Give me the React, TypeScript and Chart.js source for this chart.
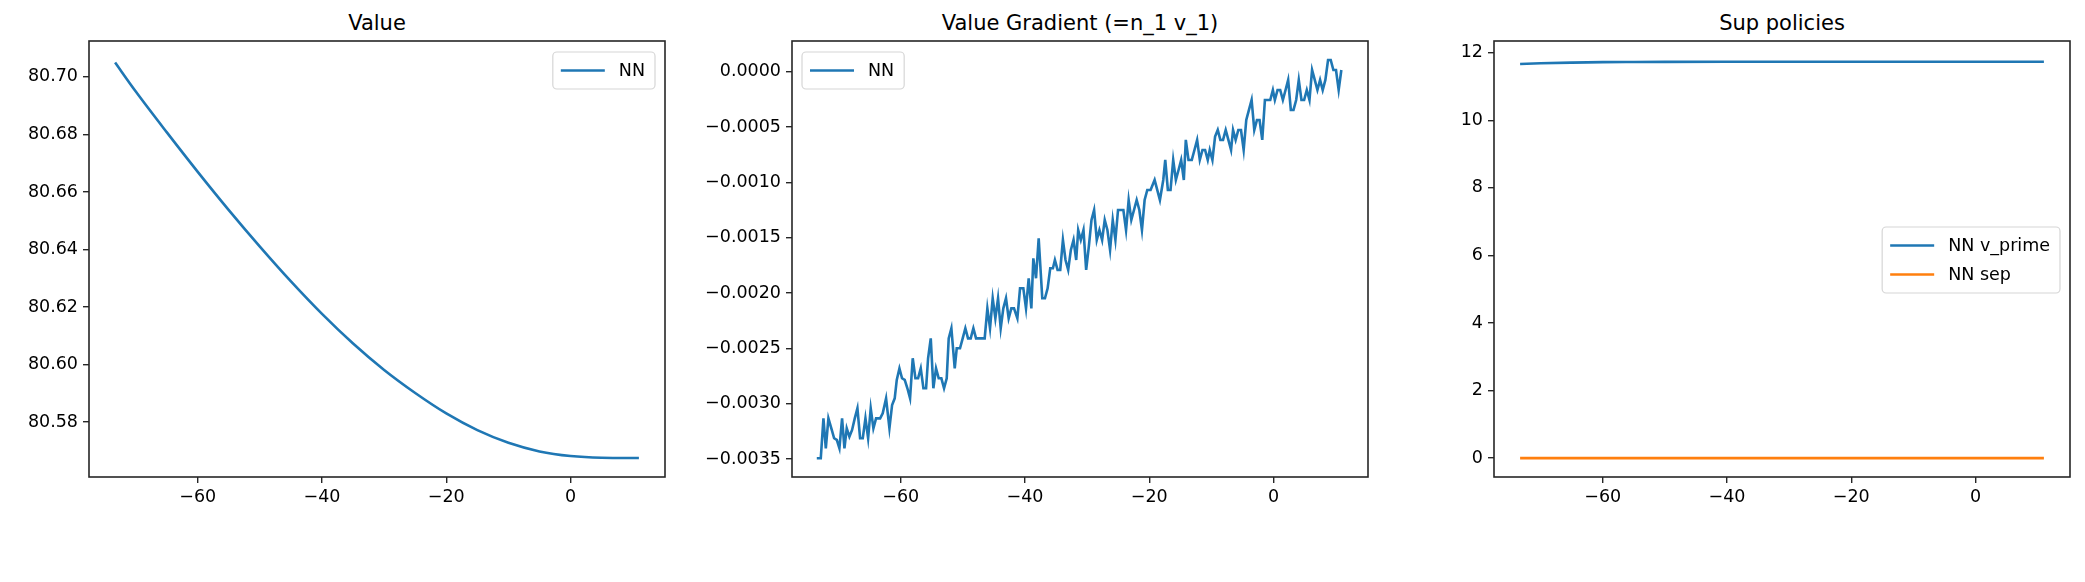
import React, { useEffect, useRef } from "react";
import { Chart, registerables } from "chart.js";
Chart.register(...registerables);

const valueX = [-73.3, -70, -65, -60, -55, -50, -45, -40, -35, -30, -25, -20, -15, -10, -5, 0, 5, 11];
const valueY = [80.705, 80.695, 80.6808, 80.667, 80.6537, 80.641, 80.6289, 80.6176, 80.6073, 80.5981, 80.5901, 80.583, 80.5772, 80.5728, 80.5698, 80.5682, 80.5676, 80.5675];

const gradX = [
  -73.51, -72.87, -72.44, -72.06, -71.64, -71.1, -70.72, -70.29, -69.87, -69.44,
  -69.06, -68.69, -68.26, -67.83, -67.4, -66.97, -66.54, -66.11, -65.68, -65.25,
  -64.83, -64.4, -63.97, -63.32, -62.9, -62.36, -61.82, -61.39, -60.97, -60.64,
  -60.21, -59.79, -59.36, -58.93, -58.5, -58.07, -57.64, -57.21, -56.78, -56.35,
  -55.92, -55.6, -55.17, -54.75, -54.32, -53.89, -53.46, -53.03, -52.6, -52.28,
  -51.85, -51.31, -50.99, -50.46, -50.03, -49.6, -49.17, -48.74, -48.31, -47.88,
  -47.45, -46.92, -46.49, -46.06, -45.63, -45.2, -44.77, -44.34, -43.91, -43.49,
  -43.06, -42.63, -42.2, -41.77, -41.23, -40.8, -40.27, -39.84, -39.41, -38.98,
  -38.66, -38.23, -37.8,
  -37.22, -36.79, -36.36, -35.94, -35.51, -35.19, -34.76, -34.33, -33.9, -33.48,
  -33.05, -32.62, -32.19, -31.76, -31.44, -31.02, -30.59, -30.16, -29.73, -29.3,
  -28.88, -28.45, -28.02, -27.59, -27.17, -26.74, -26.31, -25.88, -25.45, -25.03,
  -24.6, -24.17, -23.74, -23.32, -22.89, -22.46, -22.03, -21.6, -21.18, -20.75,
  -20.32, -19.79, -19.14, -18.72, -18.29, -17.75, -17.43, -17.01, -16.58, -16.15,
  -15.72, -15.29, -14.87, -14.44, -14.12, -13.69, -13.16, -12.73, -12.3, -11.87,
  -11.44, -11.02, -10.59, -10.27, -9.84, -9.41, -8.98, -8.56, -8.13, -7.7,
  -7.27, -6.84, -6.52, -6.1, -5.67, -5.24, -4.81, -4.39, -3.96, -3.53,
  -3.1, -2.67, -2.25, -1.82, -1.39, -0.96, -0.53, -0.11, 0.21, 0.64,
  1.07, 1.5, 1.93, 2.35, 2.78, 3.21, 3.64, 4.06, 4.49, 4.92,
  5.35, 5.78, 6.2, 6.63, 7.06, 7.49, 7.91, 8.34, 8.77, 9.2,
  9.63, 10.05, 10.48, 10.91,
];
const gradY = [
  -0.003494, -0.003494, -0.003133, -0.003404, -0.003133, -0.003238, -0.003313, -0.003328, -0.003404, -0.003133,
  -0.003404, -0.003223, -0.003298, -0.003238, -0.003133, -0.003042, -0.003313, -0.003313, -0.003133, -0.003313,
  -0.003042, -0.003223, -0.003133, -0.003133, -0.003087, -0.002952, -0.003223, -0.003012, -0.002952, -0.002786,
  -0.002681, -0.002771, -0.002786, -0.002861, -0.002952, -0.00259, -0.002771, -0.002771, -0.002681, -0.002861,
  -0.002861, -0.00259, -0.00241, -0.002861, -0.002681, -0.002771, -0.002771, -0.002861, -0.002771, -0.00241,
  -0.002319, -0.002681, -0.0025, -0.0025, -0.00241, -0.002319, -0.00241, -0.00241, -0.002319, -0.00241,
  -0.00241, -0.00241, -0.00241, -0.002139, -0.002319, -0.002048, -0.002229, -0.002048, -0.002319, -0.002139,
  -0.002048, -0.002229, -0.002139, -0.002139, -0.002229, -0.001958, -0.001958, -0.002139, -0.001867, -0.002139,
  -0.001687, -0.001867, -0.001506,
  -0.002048, -0.002048, -0.001958, -0.001777, -0.001777, -0.001702, -0.001792, -0.001792, -0.001521, -0.001702,
  -0.001792, -0.001611, -0.001521, -0.001702, -0.001431, -0.001521, -0.001431, -0.001792, -0.001581, -0.00134,
  -0.00125, -0.001521, -0.001431, -0.001521, -0.00134, -0.001431, -0.001611, -0.00134, -0.001521, -0.00125,
  -0.00125, -0.00125, -0.001431, -0.00116, -0.00134, -0.00125, -0.00116, -0.00125, -0.001431, -0.00116,
  -0.001069, -0.001069, -0.000979, -0.001069, -0.00116, -0.000979, -0.000798, -0.001069, -0.001069, -0.000798,
  -0.000979, -0.000889, -0.000798, -0.000979, -0.000617, -0.000798, -0.000798, -0.000708, -0.000617, -0.000798,
  -0.000708, -0.000708, -0.000798, -0.000708, -0.000798, -0.000587, -0.000527, -0.000617, -0.000617, -0.000527,
  -0.000617, -0.000708, -0.000527, -0.000617, -0.000527, -0.000527, -0.000708, -0.000437, -0.000346, -0.000256,
  -0.000527, -0.000437, -0.000437, -0.000617, -0.000256, -0.000256, -0.000256, -0.000166, -0.000256, -0.000166,
  -0.000166, -0.000256, -0.000166, -0.000075, -0.000346, -0.000346, -0.000256, -0.000075, -0.000256, -0.000256,
  -0.000166, -0.000256, 0.000015, -0.000075, -0.000166, -0.000075, -0.000166, -0.000075, 0.000105, 0.000105,
  0.000015, 0.000015, -0.000166, 0.000015,
];

const supX = [-73.3, -70, -65, -60, -55, -50, -40, -30, -20, -10, 0, 11];
const vPrimeY = [11.67, 11.69, 11.71, 11.725, 11.73, 11.733, 11.735, 11.735, 11.735, 11.735, 11.735, 11.735];
const sepY = [0, 0, 0, 0, 0, 0, 0, 0, 0, 0, 0, 0];

const xTicks = [-60, -40, -20, 0];
const valueTicks = [80.58, 80.6, 80.62, 80.64, 80.66, 80.68, 80.7];
const gradTicks = [-0.0035, -0.003, -0.0025, -0.002, -0.0015, -0.001, -0.0005, 0];
const supTicks = [0, 2, 4, 6, 8, 10, 12];

const BLUE = "#1f77b4";
const ORANGE = "#ff7f0e";
const FONT = "'DejaVu Sans', sans-serif";
const minus = (s: string) => s.replace("-", "\u2212");

type Panel = {
  title: string;
  left: number;
  right: number;
  ymin: number;
  ymax: number;
  yTicks: number[];
  fmt: (v: number) => string;
  series: { label: string; xs: number[]; ys: number[]; color: string; smooth: boolean }[];
  legend: "topright" | "topleft" | "centerright";
};

const panels: Panel[] = [
  {
    title: "Value", left: 89, right: 665, ymin: 80.5609, ymax: 80.7125, yTicks: valueTicks,
    fmt: (v) => v.toFixed(2), legend: "topright",
    series: [{ label: "NN", xs: valueX, ys: valueY, color: BLUE, smooth: true }],
  },
  {
    title: "Value Gradient (=n_1 v_1)", left: 792, right: 1368, ymin: -0.003663, ymax: 0.000277, yTicks: gradTicks,
    fmt: (v) => (Math.abs(v) < 1e-9 ? "0.0000" : v.toFixed(4)), legend: "topleft",
    series: [{ label: "NN", xs: gradX, ys: gradY, color: BLUE, smooth: false }],
  },
  {
    title: "Sup policies", left: 1494, right: 2070, ymin: -0.56, ymax: 12.35, yTicks: supTicks,
    fmt: (v) => String(Math.round(v)), legend: "centerright",
    series: [
      { label: "NN v_prime", xs: supX, ys: vPrimeY, color: BLUE, smooth: true },
      { label: "NN sep", xs: supX, ys: sepY, color: ORANGE, smooth: false },
    ],
  },
];

const TOP = 41, BOTTOM = 477, H = 582;

function PanelChart({ p }: { p: Panel }) {
  const ref = useRef<HTMLCanvasElement>(null);
  useEffect(() => {
    const frame = {
      id: "frame",
      afterDatasetsDraw(chart: any) {
        const { ctx, chartArea: a } = chart;
        ctx.save();
        ctx.strokeStyle = "#262626";
        ctx.lineWidth = 1.6;
        ctx.strokeRect(a.left, a.top, a.right - a.left, a.bottom - a.top);
        ctx.font = `17.5px ${FONT}`;
        const items = p.series;
        const tw = Math.max(...items.map((s) => ctx.measureText(s.label).width));
        const w = 8 + 44 + 14 + tw + 10;
        const rowH = 29;
        const h = 8 + rowH * items.length;
        let bx = a.right - 10 - w;
        let by = a.top + 11;
        if (p.legend === "topleft") bx = a.left + 10;
        if (p.legend === "centerright") by = (a.top + a.bottom) / 2 - h / 2 + 1;
        ctx.fillStyle = "rgba(255,255,255,0.8)";
        ctx.strokeStyle = "#d6d6d6";
        ctx.lineWidth = 1.2;
        ctx.beginPath();
        (ctx as any).roundRect(bx, by, w, h, 4);
        ctx.fill();
        ctx.stroke();
        items.forEach((s, i) => {
          const cy = by + 4 + rowH * i + rowH / 2;
          ctx.strokeStyle = s.color;
          ctx.lineWidth = 2.6;
          ctx.beginPath();
          ctx.moveTo(bx + 8, cy);
          ctx.lineTo(bx + 52, cy);
          ctx.stroke();
          ctx.fillStyle = "#000";
          ctx.textBaseline = "middle";
          ctx.fillText(s.label, bx + 66, cy + 1);
        });
        ctx.restore();
      },
    };
    const tickFont = { family: FONT, size: 17.5 };
    const chart = new Chart(ref.current!, {
      type: "line",
      data: {
        datasets: p.series.map((s) => ({
          label: s.label,
          data: s.xs.map((x, i) => ({ x, y: s.ys[i] })),
          borderColor: s.color,
          borderWidth: 2.6,
          pointRadius: 0,
          fill: false,
          cubicInterpolationMode: s.smooth ? ("monotone" as const) : ("default" as const),
        })),
      },
      options: {
        animation: false,
        responsive: false,
        maintainAspectRatio: false,
        devicePixelRatio: 1,
        layout: { padding: { top: TOP, right: 10, bottom: H - BOTTOM - 40, left: 0 } },
        plugins: { legend: { display: false }, title: { display: false }, tooltip: { enabled: false } },
        scales: {
          x: {
            type: "linear",
            min: -77.5,
            max: 15.2,
            afterBuildTicks: (s: any) => { s.ticks = xTicks.map((v) => ({ value: v })); },
            afterFit: (s: any) => { s.height = 40; },
            ticks: { font: tickFont, color: "#000", padding: 4, maxRotation: 0, callback: (v: any) => minus(String(v)) },
            grid: { display: true, drawOnChartArea: false, drawTicks: true, tickLength: 6, color: "#262626", lineWidth: 1.4 },
            border: { display: false },
          },
          y: {
            type: "linear",
            min: p.ymin,
            max: p.ymax,
            afterBuildTicks: (s: any) => { s.ticks = p.yTicks.map((v) => ({ value: v })); },
            afterFit: (s: any) => { s.width = 90; },
            ticks: { font: tickFont, color: "#000", padding: 5, callback: (v: any) => minus(p.fmt(Number(v))) },
            grid: { display: true, drawOnChartArea: false, drawTicks: true, tickLength: 6, color: "#262626", lineWidth: 1.4 },
            border: { display: false },
          },
        },
      },
      plugins: [frame],
    } as any);
    return () => chart.destroy();
  }, [p]);
  const w = p.right - p.left + 100;
  return (
    <>
      <div style={{ position: "absolute", left: p.left, width: p.right - p.left, top: 10, textAlign: "center", font: `21px ${FONT}`, lineHeight: "26px", color: "#000" }}>
        {p.title}
      </div>
      <canvas ref={ref} width={w} height={H} style={{ position: "absolute", left: p.left - 90, top: 0, width: w, height: H }} />
    </>
  );
}

export default function App() {
  useEffect(() => {
    document.body.style.margin = "0";
  }, []);
  return (
    <div style={{ position: "relative", width: 2085, height: H, background: "#fff", overflow: "hidden" }}>
      {panels.map((p) => (
        <PanelChart key={p.title} p={p} />
      ))}
    </div>
  );
}
